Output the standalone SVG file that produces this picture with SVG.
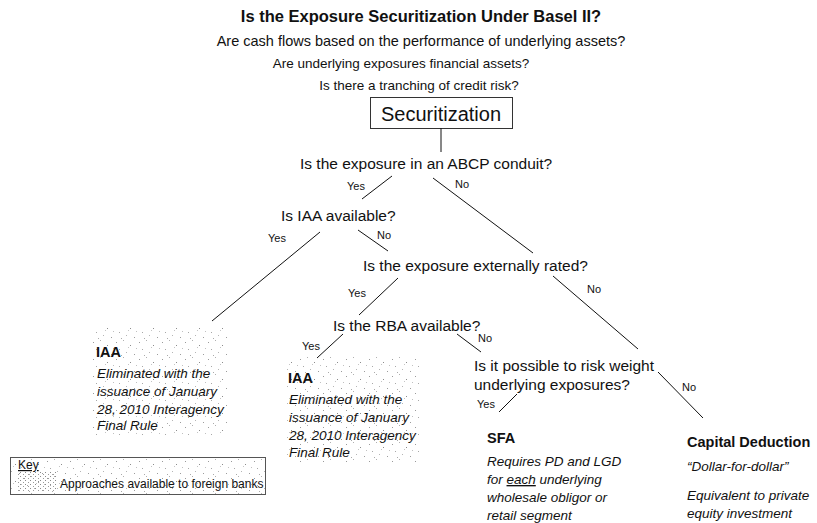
<svg xmlns="http://www.w3.org/2000/svg" width="817" height="523" viewBox="0 0 817 523">
<defs>
<pattern id="stip" width="23" height="17" patternUnits="userSpaceOnUse">
<rect x="1" y="2" width="1" height="1" fill="#9a9a9a"/>
<rect x="8" y="0" width="1" height="1" fill="#b0b0b0"/>
<rect x="15" y="5" width="1" height="1" fill="#8c8c8c"/>
<rect x="4" y="9" width="1" height="1" fill="#a8a8a8"/>
<rect x="11" y="12" width="1" height="1" fill="#b5b5b5"/>
<rect x="19" y="14" width="1" height="1" fill="#9c9c9c"/>
<rect x="21" y="8" width="1" height="1" fill="#c0c0c0"/>
<rect x="6" y="15" width="1" height="1" fill="#aaaaaa"/>
<rect x="13" y="7" width="1" height="1" fill="#c4c4c4"/>
</pattern>
<pattern id="dense" width="5" height="4" patternUnits="userSpaceOnUse">
<rect x="0" y="0" width="1" height="1" fill="#8a8a8a"/>
<rect x="3" y="2" width="1" height="1" fill="#9a9a9a"/>
</pattern>
</defs>
<style>
text{font-family:"Liberation Sans",Arial,sans-serif;fill:#111}
.t{font-size:16.5px;font-weight:bold}
.h{font-size:13.5px}
.h2{font-size:14.5px}
.q{font-size:15.5px}
.l{font-size:11px}
.b{font-size:14.5px;font-weight:bold}
.i{font-size:13.5px;font-style:italic}
.k{font-size:12px}
.c line{stroke:#111;stroke-width:1}
</style>
<g id="header">
<text class="t" x="421" y="22" text-anchor="middle">Is the Exposure Securitization Under Basel II?</text>
<text class="h2" x="421" y="46" text-anchor="middle">Are cash flows based on the performance of underlying assets?</text>
<text class="h" x="401" y="68" text-anchor="middle">Are underlying exposures financial assets?</text>
<text class="h" x="419" y="90" text-anchor="middle">Is there a tranching of credit risk?</text>
</g>
<g id="securitization">
<rect x="370.5" y="97.5" width="142" height="31" fill="#fff" stroke="#333" stroke-width="1"/>
<text x="441" y="121" text-anchor="middle" style="font-size:20px">Securitization</text>
</g>
<g id="q-abcp"><text class="q" x="300" y="169">Is the exposure in an ABCP conduit?</text></g>
<g id="q-iaa"><text class="q" x="281" y="221">Is IAA available?</text></g>
<g id="q-rated"><text class="q" x="363" y="271">Is the exposure externally rated?</text></g>
<g id="q-rba"><text class="q" x="333" y="331">Is the RBA available?</text></g>
<g id="q-risk">
<text class="q" x="474" y="371">Is it possible to risk weight</text>
<text class="q" x="474" y="390">underlying exposures?</text>
</g>
<g id="iaa1">
<rect x="93" y="328" width="134" height="107" fill="url(#stip)"/>
<text class="b" x="96" y="357">IAA</text>
<text class="i" x="97" y="378">Eliminated with the</text>
<text class="i" x="97" y="396">issuance of January</text>
<text class="i" x="97" y="414">28, 2010 Interagency</text>
<text class="i" x="97" y="430">Final Rule</text>
</g>
<g id="iaa2">
<rect x="285" y="357" width="135" height="105" fill="url(#stip)"/>
<text class="b" x="288" y="383">IAA</text>
<text class="i" x="289" y="404">Eliminated with the</text>
<text class="i" x="289" y="422">issuance of January</text>
<text class="i" x="289" y="440">28, 2010 Interagency</text>
<text class="i" x="289" y="457">Final Rule</text>
</g>
<g id="sfa">
<text class="b" x="487" y="443">SFA</text>
<text class="i" x="487" y="466">Requires PD and LGD</text>
<text class="i" x="487" y="484">for <tspan text-decoration="underline">each</tspan> underlying</text>
<text class="i" x="487" y="502">wholesale obligor or</text>
<text class="i" x="487" y="520">retail segment</text>
</g>
<g id="capital">
<text class="b" x="687" y="447">Capital Deduction</text>
<text class="i" x="687" y="471">“Dollar-for-dollar”</text>
<text class="i" x="687" y="500">Equivalent to private</text>
<text class="i" x="687" y="518">equity investment</text>
</g>
<g id="key">
<rect x="10.5" y="457.5" width="255" height="37" fill="url(#stip)" stroke="#555" stroke-width="1"/>
<rect x="18" y="472" width="38" height="20" fill="url(#dense)"/>
<text class="k" x="18" y="469" text-decoration="underline">Key</text>
<text class="k" x="60" y="488">Approaches available to foreign banks</text>
</g>
<g id="connectors" class="c">
<line x1="441" y1="128" x2="441" y2="152"/>
<line x1="392" y1="176" x2="362" y2="199"/>
<line x1="433" y1="178" x2="533" y2="253"/>
<line x1="320" y1="232" x2="212" y2="321"/>
<line x1="358" y1="230" x2="388" y2="251"/>
<line x1="398" y1="278" x2="359" y2="315"/>
<line x1="553" y1="276" x2="638" y2="349"/>
<line x1="343" y1="334" x2="317" y2="358"/>
<line x1="457" y1="334" x2="481" y2="352"/>
<line x1="517" y1="394" x2="499" y2="412"/>
<line x1="658" y1="372" x2="703" y2="418"/>
</g>
<g id="labels">
<text class="l" x="347" y="190">Yes</text>
<text class="l" x="455" y="188">No</text>
<text class="l" x="268" y="242">Yes</text>
<text class="l" x="377" y="239">No</text>
<text class="l" x="348" y="297">Yes</text>
<text class="l" x="587" y="293">No</text>
<text class="l" x="302" y="350">Yes</text>
<text class="l" x="478" y="342">No</text>
<text class="l" x="477" y="408">Yes</text>
<text class="l" x="682" y="391">No</text>
</g>
</svg>
